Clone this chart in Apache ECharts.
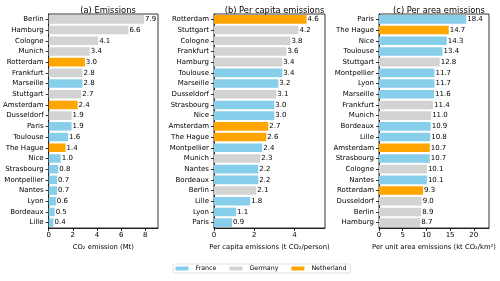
<!DOCTYPE html>
<html><head><meta charset="utf-8">
<script src="https://cdn.jsdelivr.net/npm/echarts@6/dist/echarts.min.js"></script>
<style>html,body{margin:0;padding:0;background:#fff}#c{width:500px;height:281px}</style>
</head><body><div id="c"></div>
<script>
// Countries
const france = ["Paris","Marseille","Lyon","Toulouse","Nice","Nantes","Montpellier","Strasbourg","Bordeaux","Lille"];
const germany = ["Berlin","Hamburg","Munich","Cologne","Frankfurt","Stuttgart","Dusseldorf"];
const netherland = ["Amsterdam","Rotterdam","The Hague"];
const countryNames = ["France","Germany","Netherland"];

// (a) Emissions (Mt)
const citiesA = ["Berlin","Hamburg","Cologne","Munich","Rotterdam","Frankfurt","Marseille","Stuttgart","Amsterdam","Dusseldorf","Paris","Toulouse","The Hague","Nice","Strasbourg","Montpellier","Nantes","Lyon","Bordeaux","Lille"];
const valuesA = [7.9,6.6,4.1,3.4,3.0,2.8,2.8,2.7,2.4,1.9,1.9,1.6,1.4,1.0,0.8,0.7,0.7,0.6,0.5,0.4];

// (b) Per capita emissions (t CO2/person)
const citiesB = ["Rotterdam","Stuttgart","Cologne","Frankfurt","Hamburg","Toulouse","Marseille","Dusseldorf","Strasbourg","Nice","Amsterdam","The Hague","Montpellier","Munich","Nantes","Bordeaux","Berlin","Lille","Lyon","Paris"];
const valuesB = [4.6,4.2,3.8,3.6,3.4,3.4,3.2,3.1,3.0,3.0,2.7,2.6,2.4,2.3,2.2,2.2,2.1,1.8,1.1,0.9];

// (c) Per area emissions (kt CO2/km2)
const citiesC = ["Paris","The Hague","Nice","Toulouse","Stuttgart","Montpellier","Lyon","Marseille","Frankfurt","Munich","Bordeaux","Lille","Amsterdam","Strasbourg","Cologne","Nantes","Rotterdam","Dusseldorf","Berlin","Hamburg"];
const valuesC = [18.4,14.7,14.3,13.4,12.8,11.7,11.7,11.6,11.4,11.0,10.9,10.8,10.7,10.7,10.1,10.1,9.3,9.0,8.9,8.7];

const titles = ["(a) Emissions","(b) Per capita emissions","(c) Per area emissions"];
const axisNames = ["CO\u2082 emission (Mt)","Per capita emissions (t CO\u2082/person)","Per unit area emissions (kt CO\u2082/km\u00B2)"];

const colors = {France:"#87CEEB", Germany:"#D3D3D3", Netherland:"#FFA500"};
function countryOf(c){ if(france.includes(c)) return "France"; if(germany.includes(c)) return "Germany"; return "Netherland"; }

const panels = [
  {cities:citiesA, values:valuesA, left:48, width:110, max:9.05, interval:2},
  {cities:citiesB, values:valuesB, left:214, width:111, max:5.52, interval:2},
  {cities:citiesC, values:valuesC, left:379, width:110, max:23.2, interval:5}
];

const grid=[], xAxis=[], yAxis=[], series=[], title=[];
panels.forEach((p,i)=>{
  grid.push({left:p.left, width:p.width, top:14, height:214, show:true, borderColor:"#000", borderWidth:0.8, backgroundColor:"transparent"});
  title.push({text:titles[i], left:p.left+p.width/2, textAlign:"center", top:2, textStyle:{fontSize:8.3, fontWeight:"normal", color:"#000", fontFamily:"DejaVu Sans"}});
  xAxis.push({type:"value", gridIndex:i, min:0, max:p.max, interval:p.interval,
    name:axisNames[i], nameLocation:"middle", nameGap:15,
    nameTextStyle:{fontSize:6.8, color:"#000", fontFamily:"DejaVu Sans"},
    splitLine:{show:false},
    axisLine:{show:true, lineStyle:{color:"#000", width:0.8}},
    axisTick:{show:true, length:3, lineStyle:{color:"#000", width:0.8}},
    axisLabel:{fontSize:7, color:"#000", margin:4, showMaxLabel:false, fontFamily:"DejaVu Sans"}});
  yAxis.push({type:"category", gridIndex:i, data:p.cities, inverse:true,
    axisLine:{show:true, lineStyle:{color:"#000", width:0.8}},
    axisTick:{show:true, length:3, alignWithLabel:true, lineStyle:{color:"#000", width:0.8}},
    axisLabel:{fontSize:7, color:"#000", margin:5, fontFamily:"DejaVu Sans"}});
  countryNames.forEach(cn=>{
    series.push({type:"bar", name:cn, xAxisIndex:i, yAxisIndex:i, stack:"s"+i,
      barCategoryGap:"20%", itemStyle:{color:colors[cn]},
      label:{show:true, position:"right", distance:1, fontSize:7, color:"#000", fontFamily:"DejaVu Sans",
        formatter:(d)=>Number(d.value).toFixed(1)},
      data:p.values.map((v,k)=> countryOf(p.cities[k])===cn ? v : "-")});
  });
});

const chart = echarts.init(document.getElementById("c"), null, {renderer:"canvas"});
chart.setOption({
  animation:false,
  textStyle:{fontFamily:"DejaVu Sans"},
  title, grid, xAxis, yAxis, series,
  legend:{data:countryNames, left:173, top:264, orient:"horizontal",
    icon:"rect", itemWidth:13, itemHeight:4, itemGap:13,
    padding:[1.5,4,1.5,2.5], borderColor:"#d9d9d9", borderWidth:0.8, borderRadius:2,
    textStyle:{fontSize:6.3, color:"#000", fontFamily:"DejaVu Sans", padding:[0,0,0,2]}}
});
</script></body></html>
